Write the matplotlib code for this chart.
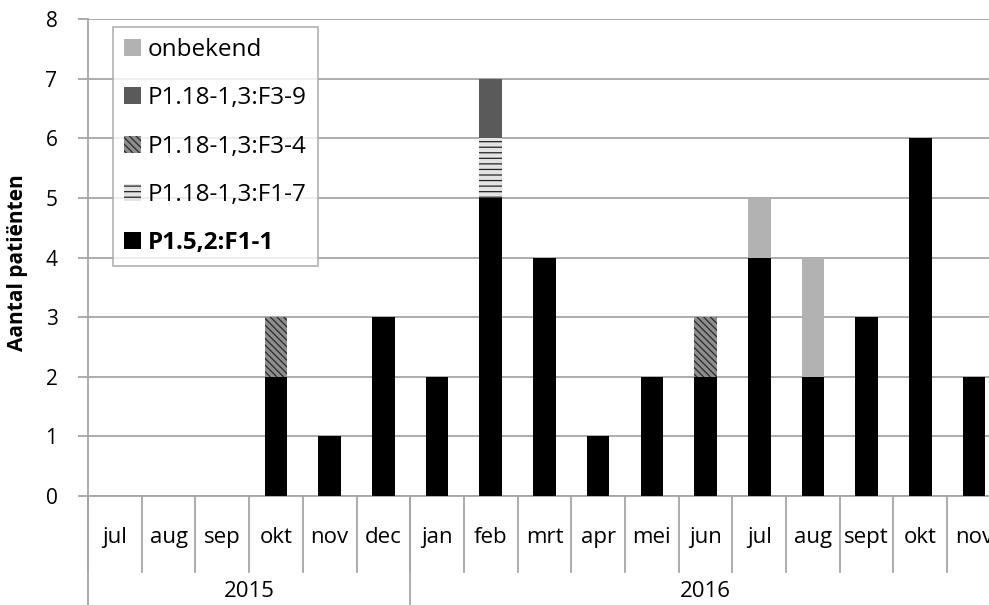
import matplotlib.pyplot as plt
import numpy as np

plt.rcParams['font.family'] = ['Open Sans', 'DejaVu Sans']
plt.rcParams['hatch.linewidth'] = 0.9

months = ['jul', 'aug', 'sep', 'okt', 'nov', 'dec', 'jan', 'feb', 'mrt',
          'apr', 'mei', 'jun', 'jul', 'aug', 'sept', 'okt', 'nov']
years = ['2015', '2016']
year_counts = [6, 11]

f1_1 = [0, 0, 0, 2, 1, 3, 2, 5, 4, 1, 2, 2, 4, 2, 3, 6, 2]
f1_7 = [0, 0, 0, 0, 0, 0, 0, 1, 0, 0, 0, 0, 0, 0, 0, 0, 0]
f3_4 = [0, 0, 0, 1, 0, 0, 0, 0, 0, 0, 0, 1, 0, 0, 0, 0, 0]
f3_9 = [0, 0, 0, 0, 0, 0, 0, 1, 0, 0, 0, 0, 0, 0, 0, 0, 0]
onbekend = [0, 0, 0, 0, 0, 0, 0, 0, 0, 0, 0, 0, 1, 2, 0, 0, 0]

FS = 16
GRID = '#a6a6a6'

fig = plt.figure(figsize=(9.89, 6.05), dpi=100)
ax = fig.add_axes([0.089, 0.180, 0.923, 0.7884])

x = np.arange(len(months))
w = 0.42
bottom = np.zeros(len(months))
series = [
    ('P1.5,2:F1-1', f1_1, dict(color='black')),
    ('P1.18-1,3:F1-7', f1_7, dict(facecolor='#e2e3e2', edgecolor='#222222', hatch='---', linewidth=0)),
    ('P1.18-1,3:F3-4', f3_4, dict(facecolor='#8e8e8e', edgecolor='#2a2a2a', hatch='\\\\\\\\\\', linewidth=0)),
    ('P1.18-1,3:F3-9', f3_9, dict(color='#5a5a5a')),
    ('onbekend', onbekend, dict(color='#b1b2b1')),
]
handles = []
for name, vals, style in series:
    vals = np.array(vals, dtype=float)
    b = ax.bar(x, vals, w, bottom=bottom, label=name, zorder=3, **style)
    handles.append(b)
    bottom += vals

ax.set_xlim(-0.5, len(months) - 0.5)
ax.set_ylim(0, 8)
ax.set_yticks(range(9))
ax.yaxis.grid(True, color=GRID, linewidth=1.3, zorder=0)
ax.tick_params(axis='y', length=7, width=1.3, color=GRID, labelsize=15, pad=15)
ax.tick_params(axis='x', length=0, labelbottom=False)
for s in ['top', 'right']:
    ax.spines[s].set_visible(False)
for s in ['left', 'bottom']:
    ax.spines[s].set_color(GRID)
    ax.spines[s].set_linewidth(1.3)
ax.set_ylabel('Aantal patiënten', fontsize=15, fontweight='bold')
ax.yaxis.set_label_coords(-0.066, 0.49)

# month labels and separators below the axis
trans = ax.get_xaxis_transform()
for i, m in enumerate(months):
    ax.text(i, -0.086, m, transform=trans, ha='center', va='center', fontsize=FS)
for i in range(len(months) + 1):
    ax.plot([i - 0.5, i - 0.5], [0, -0.16], transform=trans, color=GRID,
            linewidth=1.3, clip_on=False)

# year labels with longer separators
start = 0
for yr, n in zip(years, year_counts):
    ax.text(start + n / 2 - 0.5, -0.2, yr, transform=trans, ha='center', va='center', fontsize=FS)
    ax.plot([start - 0.5, start - 0.5], [0, -0.23], transform=trans, color=GRID,
            linewidth=1.3, clip_on=False)
    start += n

leg = ax.legend(handles[::-1], [s[0] for s in series][::-1], loc='upper left',
                bbox_to_anchor=(0.027, 0.983), fontsize=17.5, frameon=True, fancybox=False,
                edgecolor=GRID, handlelength=0.7, handleheight=0.7, handletextpad=0.3,
                labelspacing=1.0, borderpad=0.45, borderaxespad=0)
leg.get_frame().set_linewidth(1.3)
leg.get_texts()[-1].set_fontweight('bold')

fig.savefig('out.png', dpi=100)
